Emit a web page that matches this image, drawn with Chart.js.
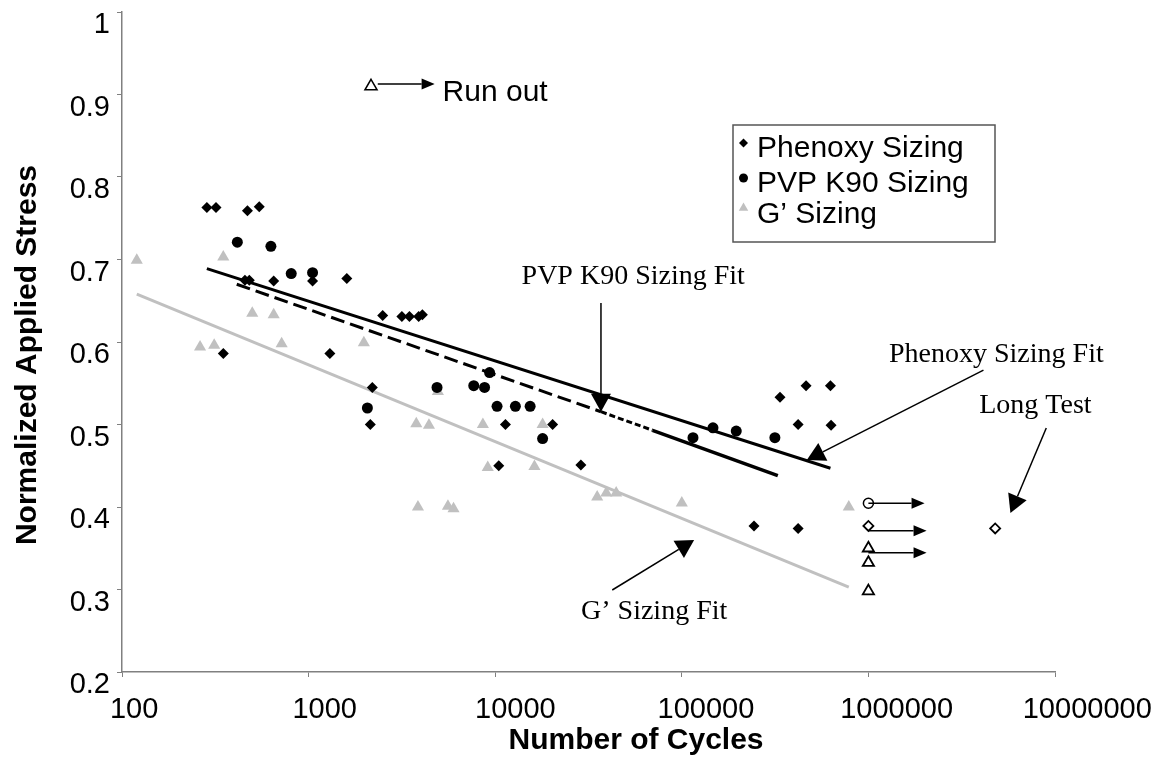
<!DOCTYPE html>
<html><head><meta charset="utf-8">
<script src="https://cdn.jsdelivr.net/npm/chart.js@4.4.1/dist/chart.umd.min.js"></script>
<style>html,body{margin:0;padding:0;background:#fff}#wrap{width:1164px;height:757px;position:relative}canvas{display:block}</style>
</head><body><div id="wrap"><canvas id="c" width="1164" height="757"></canvas></div>
<script>
// ---------- data ----------
const xTicks = [100, 1000, 10000, 100000, 1000000, 10000000];
const xTickLabels = ['100', '1000', '10000', '100000', '1000000', '10000000'];
const yTicks = [0.2, 0.3, 0.4, 0.5, 0.6, 0.7, 0.8, 0.9, 1.0];
const yTickLabels = ['0.2', '0.3', '0.4', '0.5', '0.6', '0.7', '0.8', '0.9', '1'];
const seriesNames = ['Phenoxy Sizing', 'PVP K90 Sizing', 'G\u2019 Sizing'];
const xTitle = 'Number of Cycles';
const yTitle = 'Normalized Applied Stress';

const phenoxyCycles = [285, 319, 470, 544, 456, 481, 650, 1050, 1603, 2495, 3162, 3470, 3890, 4070, 349, 1300, 2195, 2142, 10450, 11350, 20310, 28780, 336000, 463500, 626000, 420000, 631000, 243800, 420000];
const phenoxyStress = [0.763, 0.763, 0.759, 0.764, 0.675, 0.675, 0.674, 0.674, 0.677, 0.632, 0.631, 0.631, 0.631, 0.633, 0.586, 0.586, 0.545, 0.500, 0.450, 0.500, 0.500, 0.451, 0.533, 0.547, 0.547, 0.500, 0.499, 0.377, 0.374];

const pvpCycles = [415, 628, 807, 1050, 2066, 4877, 7674, 8770, 9330, 10230, 12830, 15390, 17950, 114800, 146900, 195800, 315400];
const pvpStress = [0.721, 0.716, 0.683, 0.684, 0.520, 0.545, 0.547, 0.545, 0.563, 0.522, 0.522, 0.522, 0.483, 0.484, 0.496, 0.492, 0.484];

const gCycles = [120, 262, 312, 349, 499, 650, 717, 1977, 3777, 4416, 4930, 8590, 9120, 16230, 17950, 3855, 5580, 5980, 35200, 39400, 44500, 100000, 785000];
const gStress = [0.699, 0.594, 0.596, 0.703, 0.635, 0.633, 0.598, 0.599, 0.501, 0.499, 0.540, 0.500, 0.448, 0.449, 0.500, 0.400, 0.401, 0.398, 0.412, 0.417, 0.417, 0.405, 0.400];

// run-outs (open symbols)
const phenoxyRunCycles = [1000000, 4780000];
const phenoxyRunStress = [0.377, 0.374];
const pvpRunCycles = [1000000];
const pvpRunStress = [0.4045];
const gRunCycles = [1000000, 1000000, 1000000];
const gRunStress = [0.350, 0.3325, 0.298];
const runKeyCycles = [2160];
const runKeyStress = [0.910];

// fit lines (end points)
const phenoxyFitCycles = [285, 626000];
const phenoxyFitStress = [0.689, 0.447];
const pvpFitCycles = [412, 36880, 69700, 327000];
const pvpFitStress = [0.670, 0.5155, 0.493, 0.438];
const gFitCycles = [120, 785000];
const gFitStress = [0.658, 0.303];

// annotations (data coordinates)
const noteTexts = ['Run out', 'PVP K90 Sizing Fit', 'Phenoxy Sizing Fit', 'Long Test', 'G\u2019 Sizing Fit'];
const noteX = [5226, 54900, 4850000, 7850000, 71100];
const noteY = [0.8927, 0.670, 0.5758, 0.514, 0.264];
const arrowFromX = [2348, 36880, 4137000, 8980000, 42400, 1000000, 1000000, 1000000];
const arrowFromY = [0.9127, 0.6473, 0.566, 0.4958, 0.2994, 0.4045, 0.3713, 0.3446];
const arrowToX = [4737, 36880, 467700, 5770000, 116400, 2000000, 2050000, 2050000];
const arrowToY = [0.9127, 0.5155, 0.457, 0.3927, 0.360, 0.4045, 0.3713, 0.3446];

// ---------- build ----------
const pts = (xs, ys) => xs.map((x, i) => ({x: x, y: ys[i]}));
const SANS = '"Liberation Sans", Arial, sans-serif';
const SERIF = '"Liberation Serif", "Times New Roman", serif';
const GREY = '#c0c0c0';

function drawMarker(ctx, style, x, y, r, fill, stroke, lw) {
  ctx.beginPath();
  if (style === 'circle') ctx.arc(x, y, r, 0, Math.PI * 2);
  else if (style === 'rectRot') { ctx.moveTo(x - r, y); ctx.lineTo(x, y - r); ctx.lineTo(x + r, y); ctx.lineTo(x, y + r); ctx.closePath(); }
  else { ctx.moveTo(x, y - r); ctx.lineTo(x + r * 0.866, y + r / 2); ctx.lineTo(x - r * 0.866, y + r / 2); ctx.closePath(); }
  if (fill) { ctx.fillStyle = fill; ctx.fill(); }
  if (stroke) { ctx.strokeStyle = stroke; ctx.lineWidth = lw; ctx.stroke(); }
}
function arrow(ctx, x1, y1, x2, y2, hl, hw, lw) {
  const a = Math.atan2(y2 - y1, x2 - x1);
  const bx = x2 - hl * Math.cos(a), by = y2 - hl * Math.sin(a);
  ctx.strokeStyle = '#000'; ctx.lineWidth = lw;
  ctx.beginPath(); ctx.moveTo(x1, y1); ctx.lineTo(bx, by); ctx.stroke();
  ctx.beginPath(); ctx.moveTo(x2, y2);
  ctx.lineTo(bx + hw / 2 * Math.sin(a), by - hw / 2 * Math.cos(a));
  ctx.lineTo(bx - hw / 2 * Math.sin(a), by + hw / 2 * Math.cos(a));
  ctx.closePath(); ctx.fillStyle = '#000'; ctx.fill();
}

const decor = {
  id: 'decor',
  afterDraw(chart) {
    const ctx = chart.ctx, xs = chart.scales.x, ys = chart.scales.y;
    ctx.save();
    ctx.fillStyle = '#000';
    // tick labels
    ctx.font = '29px ' + SANS;
    ctx.textBaseline = 'alphabetic';
    ctx.textAlign = 'right';
    yTicks.forEach((v, i) => ctx.fillText(yTickLabels[i], ys.right - 12, ys.getPixelForValue(v) + 21));
    ctx.textAlign = 'left';
    xTicks.forEach((v, i) => {
      const w = ctx.measureText(xTickLabels[i]).width;
      ctx.fillText(xTickLabels[i], xs.getPixelForValue(v) - w / 4, xs.top + 45.5);
    });
    // axis titles
    ctx.font = 'bold 30px ' + SANS;
    ctx.textAlign = 'center';
    ctx.fillText(xTitle, 636, 749);
    ctx.save();
    ctx.translate(36, 355); ctx.rotate(-Math.PI / 2);
    ctx.fillText(yTitle, 0, 0);
    ctx.restore();
    // legend
    ctx.fillStyle = '#fff'; ctx.fillRect(733, 125, 262, 117);
    ctx.strokeStyle = '#555'; ctx.lineWidth = 1.5; ctx.strokeRect(733, 125, 262, 117);
    const lStyles = ['rectRot', 'circle', 'triangle'], lCols = ['#000', '#000', GREY], lR = [4.5, 4.5, 5.5];
    const rowBase = [157, 191.5, 223], mkY = [143, 178, 208];
    ctx.font = '30px ' + SANS; ctx.textAlign = 'left';
    seriesNames.forEach((n, i) => {
      drawMarker(ctx, lStyles[i], 743.5, mkY[i], lR[i], lCols[i]);
      ctx.fillStyle = '#000';
      ctx.fillText(n, 757, rowBase[i]);
    });
    // annotations
    noteTexts.forEach((t, i) => {
      ctx.fillStyle = '#000';
      if (i === 0) { ctx.font = '30px ' + SANS; ctx.textAlign = 'left'; }
      else { ctx.font = '28px ' + SERIF; ctx.textAlign = 'center'; }
      ctx.fillText(t, xs.getPixelForValue(noteX[i]), ys.getPixelForValue(noteY[i]));
    });
    arrowFromX.forEach((x, i) => {
      const big = i >= 1 && i <= 4;
      arrow(ctx, xs.getPixelForValue(x), ys.getPixelForValue(arrowFromY[i]),
        xs.getPixelForValue(arrowToX[i]), ys.getPixelForValue(arrowToY[i]),
        big ? 18 : 13, big ? 20 : 11, 1.5);
    });
    ctx.restore();
  }
};

const pvpDash = [[14, 6], [6, 3], []];

new Chart(document.getElementById('c'), {
  type: 'scatter',
  data: {
    datasets: [
      {label: 'Phenoxy run-out', data: pts(phenoxyRunCycles, phenoxyRunStress), pointStyle: 'rectRot', pointRadius: 5, backgroundColor: '#fff', borderColor: '#000', pointBorderWidth: 1.8},
      {label: 'PVP run-out', data: pts(pvpRunCycles, pvpRunStress), pointStyle: 'circle', pointRadius: 5, backgroundColor: '#fff', borderColor: '#000', pointBorderWidth: 1.5},
      {label: 'G run-out', data: pts(gRunCycles, gRunStress), pointStyle: 'triangle', pointRadius: 6.5, backgroundColor: '#fff', borderColor: '#000', pointBorderWidth: 1.8},
      {label: 'Run out key', data: pts(runKeyCycles, runKeyStress), pointStyle: 'triangle', pointRadius: 7, backgroundColor: '#fff', borderColor: '#000', pointBorderWidth: 1.5},
      {label: seriesNames[0], data: pts(phenoxyCycles, phenoxyStress), pointStyle: 'rectRot', pointRadius: 5.5, backgroundColor: '#000', borderColor: '#000', pointBorderWidth: 0},
      {label: seriesNames[1], data: pts(pvpCycles, pvpStress), pointStyle: 'circle', pointRadius: 5.5, backgroundColor: '#000', borderColor: '#000', pointBorderWidth: 0},
      {label: 'Phenoxy Sizing Fit', data: pts(phenoxyFitCycles, phenoxyFitStress), showLine: true, pointRadius: 0, borderColor: '#000', borderWidth: 3},
      {label: 'PVP K90 Sizing Fit', data: pts(pvpFitCycles, pvpFitStress), showLine: true, pointRadius: 0, borderColor: '#000', borderWidth: 3,
        segment: {borderDash: c => pvpDash[c.p0DataIndex], borderWidth: c => c.p0DataIndex === 2 ? 3.5 : 3}},
      {label: 'G\u2019 Sizing Fit', data: pts(gFitCycles, gFitStress), showLine: true, pointRadius: 0, borderColor: GREY, borderWidth: 3},
      {label: seriesNames[2], data: pts(gCycles, gStress), pointStyle: 'triangle', pointRadius: 7, backgroundColor: GREY, borderColor: GREY, pointBorderWidth: 0}
    ]
  },
  options: {
    responsive: false, animation: false, events: [], devicePixelRatio: 1,
    layout: {padding: {left: 0, right: 109, top: 12, bottom: 0}},
    plugins: {legend: {display: false}, tooltip: {enabled: false}},
    scales: {
      x: {
        type: 'logarithmic', min: 100, max: 10000000,
        afterBuildTicks: s => { s.ticks = xTicks.map(v => ({value: v})); },
        afterFit: s => { s.height = 85; s.paddingLeft = 0; s.paddingRight = 0; },
        ticks: {display: false},
        grid: {display: true, drawOnChartArea: false, drawTicks: true, tickLength: 5, color: '#808080', lineWidth: 1},
        border: {display: true, color: '#808080', width: 1.5}
      },
      y: {
        type: 'linear', min: 0.2, max: 1.0,
        afterBuildTicks: s => { s.ticks = yTicks.map(v => ({value: v})); },
        afterFit: s => { s.width = 122; s.paddingTop = 0; s.paddingBottom = 0; },
        ticks: {display: false},
        grid: {display: true, drawOnChartArea: false, drawTicks: true, tickLength: 5, color: '#808080', lineWidth: 1},
        border: {display: true, color: '#808080', width: 1.5}
      }
    }
  },
  plugins: [decor]
});
</script></body></html>
